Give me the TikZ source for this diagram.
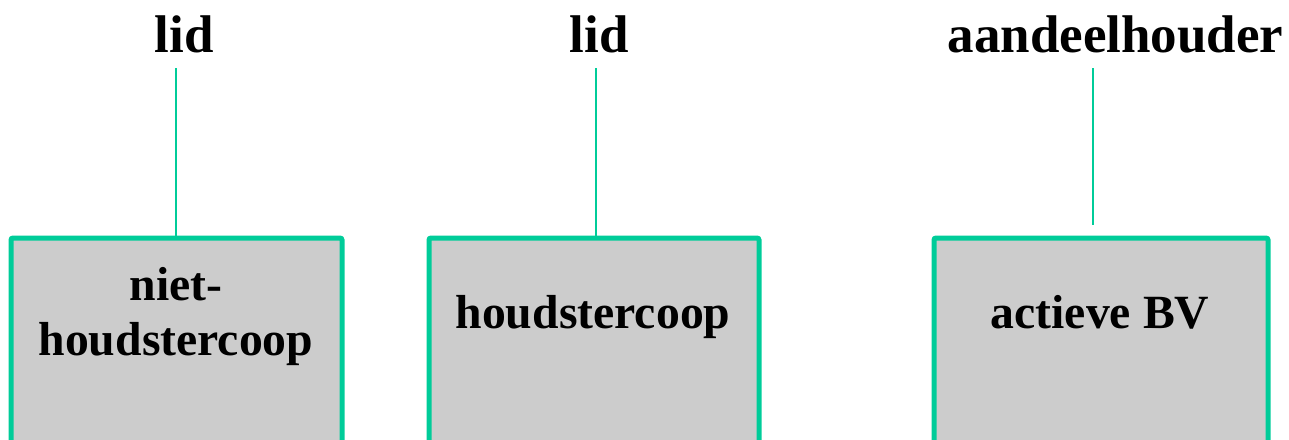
\documentclass[tikz,border=0pt]{standalone}
\usepackage{fontspec}
\setmainfont{Liberation Serif}
\definecolor{teal1}{HTML}{00CC99}
\definecolor{boxgray}{HTML}{CCCCCC}
\tikzset{
  entity/.style={draw=teal1, fill=boxgray, line width=5pt, rounded corners=2pt},
  role/.style={anchor=base, inner sep=0pt, font=\fontsize{53}{61}\selectfont\bfseries},
  boxtext/.style={anchor=base, inner sep=0pt, align=center, font=\fontsize{47.7}{55}\selectfont\bfseries},
  link/.style={draw=teal1, line width=2pt}
}
\begin{document}
\begin{tikzpicture}[x=1pt,y=-1pt]
\useasboundingbox (0,0) rectangle (1289,439);
\begin{scope}
\clip (0,0) rectangle (1289,439);
\draw[entity] (11,238) rectangle (342,460);
\draw[entity] (429,238) rectangle (759,460);
\draw[entity] (934,238) rectangle (1268,460);
\end{scope}
\coordinate (b1) at (176,238);
\coordinate (b2) at (596,238);
\coordinate (b3) at (1093,225);
\coordinate (t1) at (176,68);
\coordinate (t2) at (596,68);
\coordinate (t3) at (1093,68);
\draw[link] (t1) -- (b1);
\draw[link] (t2) -- (b2);
\draw[link] (t3) -- (b3);
\node[role] (l1) at (184,52) {lid};
\node[role] (l2) at (599,52) {lid};
\node[role] (l3) at (1115.5,52) {aandeelhouder};
\node[boxtext] (n1a) at (176,300) {niet-};
\node[boxtext] (n1b) at (176,355) {houdstercoop};
\node[boxtext] (n2) at (593,328) {houdstercoop};
\node[boxtext] (n3) at (1100,328) {actieve BV};
\end{tikzpicture}
\end{document}
